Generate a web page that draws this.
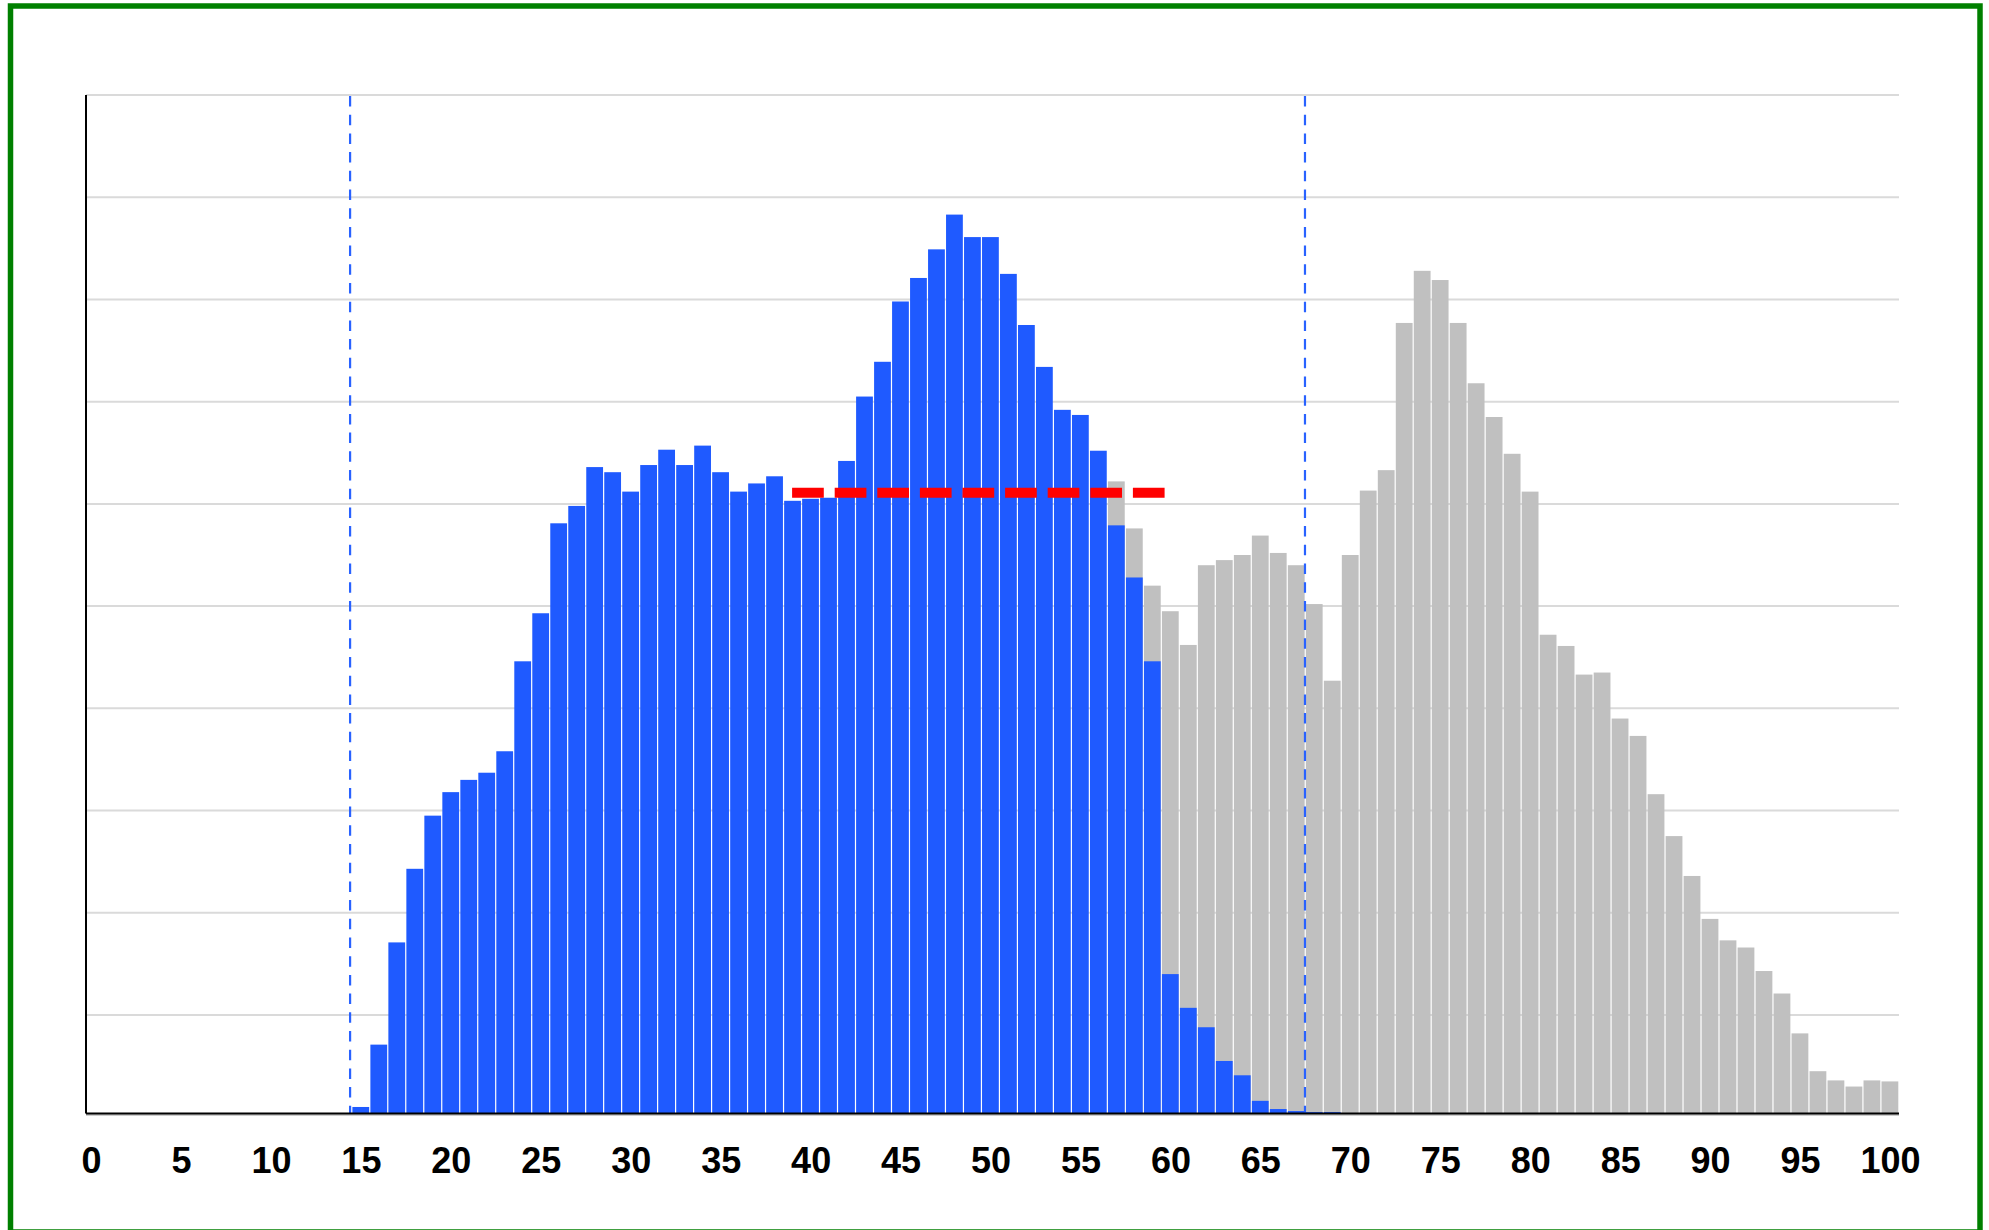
<!DOCTYPE html>
<html>
<head>
<meta charset="utf-8">
<script src="https://cdn.jsdelivr.net/npm/d3@7"></script>
<style>
  body { margin: 0; background: #fff; }
  svg { display: block; }
</style>
</head>
<body>
<div class="chart"></div>
<script>
// values per 1-unit bin, blue series starts at bin 15, grey (visible part) at bin 57
const blueStart = 15;
const blueValues = [
  1.0, 7.1, 17.1, 24.3, 29.5, 31.8, 33.0, 33.7, 35.8, 44.6,
  49.3, 58.1, 59.8, 63.6, 63.1, 61.2, 63.8, 65.3, 63.8, 65.7,
  63.1, 61.2, 62.0, 62.7, 60.3, 60.5, 60.6, 64.2, 70.5, 73.9,
  79.8, 82.1, 84.9, 88.3, 86.1, 86.1, 82.5, 77.5, 73.4, 69.2,
  68.7, 65.2, 57.9, 52.8, 44.6, 14.0, 10.7, 8.8, 5.5, 4.1,
  1.6, 0.8, 0.6, 0.5, 0.5
];

const greyStart = 57;
const greyValues = [
  62.2, 57.6, 52.0, 49.5, 46.2, 54.0, 54.5, 55.0, 56.9, 55.2,
  54.0, 50.2, 42.7, 55.0, 61.3, 63.3, 77.7, 82.8, 81.9, 77.7,
  71.8, 68.5, 64.9, 61.2, 47.2, 46.1, 43.3, 43.5, 39.0, 37.3,
  31.6, 27.5, 23.6, 19.4, 17.3, 16.6, 14.3, 12.1, 8.2, 4.5,
  3.6, 3.0, 3.6, 3.5
];

const xTicks = [0, 5, 10, 15, 20, 25, 30, 35, 40, 45, 50, 55, 60, 65, 70, 75, 80, 85, 90, 95, 100];
const gridValues = [10, 20, 30, 40, 50, 60, 70, 80, 90, 100];

const markerLines = [14.4, 67.48];
const meanLine = { from: 38.97, to: 59.7, value: 61.1 };

const totalWidth = 1989;
const totalHeight = 1230;
const plot = { left: 86, right: 1899, top: 95, bottom: 1117.2, axis: 1113.5 };

const svg = d3
  .select(".chart")
  .append("svg")
  .attr("width", totalWidth)
  .attr("height", totalHeight);

// green frame
svg
  .append("rect")
  .attr("x", 10.5)
  .attr("y", 6)
  .attr("width", 1969.5)
  .attr("height", 1226)
  .attr("fill", "none")
  .attr("stroke", "#008000")
  .attr("stroke-width", 5.5);

const xScale = d3
  .scaleLinear()
  .domain([-0.28, 100.5])
  .range([plot.left, plot.right]);

const yScale = d3
  .scaleLinear()
  .domain([0, 100])
  .range([plot.bottom, plot.top]);

// grid
svg
  .append("g")
  .selectAll("line")
  .data(gridValues)
  .enter()
  .append("line")
  .attr("x1", plot.left)
  .attr("x2", plot.right)
  .attr("y1", (d) => yScale(d))
  .attr("y2", (d) => yScale(d))
  .attr("stroke", "#dadada")
  .attr("stroke-width", 2);

const greyData = greyValues.map((v, i) => ({ bin: greyStart + i, value: v }));
const blueData = blueValues.map((v, i) => ({ bin: blueStart + i, value: v }));

function drawBars(data, color) {
  svg
    .append("g")
    .selectAll("rect")
    .data(data)
    .enter()
    .append("rect")
    .attr("x", (d) => xScale(d.bin - 0.5) + 0.5)
    .attr("width", (d) => xScale(d.bin + 0.5) - xScale(d.bin - 0.5) - 1.2)
    .attr("y", (d) => yScale(d.value))
    .attr("height", (d) => Math.max(0, plot.axis - yScale(d.value)))
    .attr("fill", color);
}

drawBars(greyData, "#c0c0c0");
drawBars(blueData, "#1f5aff");

// vertical dashed markers
svg
  .append("g")
  .selectAll("line")
  .data(markerLines)
  .enter()
  .append("line")
  .attr("x1", (d) => xScale(d))
  .attr("x2", (d) => xScale(d))
  .attr("y1", plot.top + 1)
  .attr("y2", plot.axis)
  .attr("stroke", "#2962ff")
  .attr("stroke-width", 2.2)
  .attr("stroke-dasharray", "10.5,8.2");

// red dashed horizontal
svg
  .append("line")
  .attr("x1", xScale(meanLine.from))
  .attr("x2", xScale(meanLine.to))
  .attr("y1", yScale(meanLine.value))
  .attr("y2", yScale(meanLine.value))
  .attr("stroke", "#ff0000")
  .attr("stroke-width", 10)
  .attr("stroke-dasharray", "31.7,10.9");

// axes
const xAxis = d3
  .axisBottom(xScale)
  .tickValues(xTicks)
  .tickSize(0)
  .tickPadding(34)
  .tickFormat(d3.format("d"));

const xAxisGroup = svg
  .append("g")
  .attr("transform", `translate(0, ${plot.axis})`)
  .call(xAxis);

xAxisGroup.select(".domain").remove();
xAxisGroup
  .selectAll("text")
  .attr("font-family", "'Liberation Sans', Arial, sans-serif")
  .attr("font-size", 36)
  .attr("font-weight", "bold")
  .attr("fill", "#000");

svg
  .append("line")
  .attr("x1", plot.left)
  .attr("x2", plot.right)
  .attr("y1", plot.axis + 1.5)
  .attr("y2", plot.axis + 1.5)
  .attr("stroke", "#999")
  .attr("stroke-width", 1);

svg
  .append("line")
  .attr("x1", plot.left)
  .attr("x2", plot.right)
  .attr("y1", plot.axis)
  .attr("y2", plot.axis)
  .attr("stroke", "#000")
  .attr("stroke-width", 2);

svg
  .append("line")
  .attr("x1", plot.left)
  .attr("x2", plot.left)
  .attr("y1", plot.top)
  .attr("y2", plot.axis)
  .attr("stroke", "#000")
  .attr("stroke-width", 2);
</script>
</body>
</html>
